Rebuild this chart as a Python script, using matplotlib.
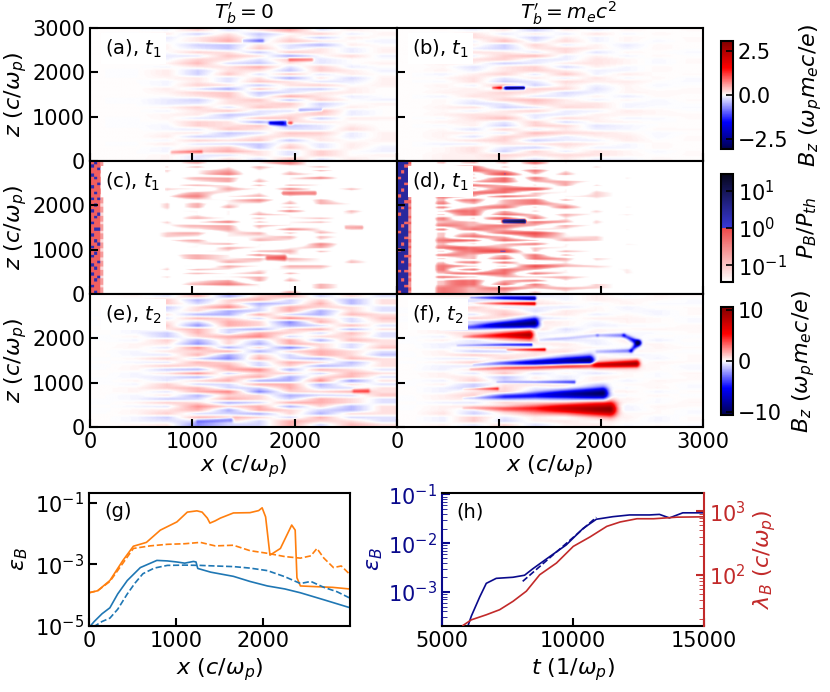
import numpy as np
import matplotlib
matplotlib.use("Agg")
import matplotlib.pyplot as plt
from matplotlib.colors import LinearSegmentedColormap, LogNorm, Normalize
from matplotlib.ticker import LogLocator, NullFormatter, NullLocator

plt.rcParams.update({
    "font.family": ["DejaVu Sans"],
    "mathtext.fontset": "dejavusans",
    "font.size": 15,
    "axes.labelsize": 16,
    "xtick.direction": "in",
    "ytick.direction": "in",
    "xtick.major.size": 6,
    "ytick.major.size": 6,
    "xtick.major.width": 1.5,
    "ytick.major.width": 1.5,
    "xtick.minor.size": 3.5,
    "ytick.minor.size": 3.5,
    "axes.linewidth": 1.5,
})

W, H = 830, 692
L = 3000.0          # box size in c/omega_p

# ---------------------------------------------------------------------------
# field maps (a)-(f): streak tables
# rows run from z=3000 (top) down to z=0, columns sit at these x centres
X_CELLS = [150, 450, 750, 1050, 1350, 1650, 1950, 2250, 2550, 2850]

NOISE_A = [
    [0, 1, -1, 2, -1, 1, 3, -1, 1, 0],
    [1, -1, 2, -2, 1, -2, 0, 2, -1, 1],
    [0, 1, -2, 1, 2, -1, 1, -2, 1, 0],
    [0, 1, -1, 1, 3, -1, 2, 1, 0, -1],
    [-1, 0, 1, -2, -2, 1, -1, -3, 1, 0],
    [1, 0, 1, -1, -2, 2, -1, 1, -1, 1],
    [1, -1, 0, 2, 1, -2, 2, 1, -1, 1],
    [0, 1, -2, -1, 2, 1, -3, 0, 2, -1],
    [-1, 1, -1, 2, 1, -1, 2, -1, 0, 0],
    [1, 0, 1, 3, -1, -2, 1, -1, 0, 1],
    [-1, 1, -1, 1, 1, 3, -1, 2, -1, 0],
    [0, -1, 2, -2, 1, 1, -2, 2, 1, -1],
    [0, -1, 2, -2, 2, -1, 2, -1, 1, 0],
    [1, 0, 1, 1, -1, 1, -3, 1, -2, 1],
    [1, 0, -1, 1, -1, 2, 1, -1, -1, 1],
    [0, 1, -1, 2, 1, -2, 1, 2, 0, 1],
    [-1, 0, 2, -1, -3, 2, -1, -2, 1, 0],
    [0, 1, 1, 2, 2, -2, -1, 1, 1, 0],
    [0, 1, 0, 1, 2, -1, 3, 1, -1, 0],
    [1, -1, -2, -2, 1, 2, -2, 2, 0, -1],
    [-1, 0, -2, -1, 1, 1, 2, -2, 0, 1],
    [0, 0, 1, 2, -1, 2, 1, -1, 1, 0],
    [-1, 1, -1, 1, 2, -1, -1, 3, -1, 0],
    [1, 1, 1, 1, -2, -1, 1, 2, -1, 0],
    [0, -1, 1, -1, -1, 2, 2, -2, 1, 1],
    [1, 0, 0, 2, 1, -3, 1, 1, 0, 0],
    [0, -1, -1, 2, 1, 2, -2, -1, 1, 0],
    [0, 1, -1, -1, 2, 1, -1, -1, 2, 0],
    [-1, 0, 1, 1, -2, -1, 2, 2, -1, 1],
    [1, 0, 2, -2, -1, 1, 1, 1, -1, 1],
    [0, 1, -1, 2, 1, 2, -2, 1, 0, 1],
    [1, -1, 2, -1, -1, -2, 1, -1, 1, 0],
    [0, 1, -1, 1, 2, -2, 2, -1, 1, -1],
    [0, 0, -1, 2, 3, 1, -1, 2, 0, -1],
    [-1, 0, 1, -1, -1, 1, -1, 2, 0, 1],
    [1, 1, 1, -1, 1, -1, 2, -1, 1, 0],
]
NOISE_B = [
    [0, 1, -1, 1, -2, 1, -1, 1, 0, 1],
    [1, -1, 2, -1, 1, -1, 2, -1, 1, 0],
    [1, -1, 2, 1, -2, 1, -1, 1, 0, 1],
    [0, 2, -1, 3, -1, 2, -1, 1, -1, 1],
    [-1, 1, 1, -2, 2, -1, 1, -2, 1, 0],
    [0, 2, -1, -2, 1, 2, 1, -1, 1, 0],
    [1, -2, 2, 1, -1, 2, -2, 1, 0, -1],
    [0, 1, -1, 2, 3, -1, 1, -1, 1, 0],
    [-1, 1, 2, 2, -1, -1, 2, 1, -1, 1],
    [1, 2, 1, -2, -1, 1, 2, 1, -1, 1],
    [-1, 1, -2, 1, 2, -2, 1, -1, 1, 0],
    [1, 2, -1, 1, 2, 1, -1, -1, 1, 0],
    [0, -2, 1, 2, -1, 3, -1, 2, 0, 1],
    [1, 1, 2, -1, 1, -1, 2, -1, 1, -1],
    [0, -1, 2, -2, -1, 2, 1, 2, 0, -1],
    [0, 2, -1, 3, -2, 1, -1, 1, -1, 0],
    [-1, 1, 1, -1, 2, 2, -2, 1, 0, 1],
    [1, 2, 1, 2, 1, -2, -1, 1, 1, 1],
    [1, -2, 2, 1, -1, -1, 1, -2, 1, 0],
    [0, 1, -1, 2, 3, 1, -1, 1, -1, 1],
    [-1, 1, -2, -1, 2, 1, 2, -1, -1, 0],
    [1, 2, 2, -2, -1, 2, 2, -1, 0, -1],
    [-1, 1, -1, 1, 2, -1, -1, 2, 1, 0],
    [0, 2, 2, 1, -1, -1, 1, 1, 1, 1],
    [0, -1, 2, 3, -1, 2, 1, -1, -1, 1],
    [1, 2, 1, -1, 2, -2, 1, 1, 0, 0],
    [1, -1, 1, -2, 2, 2, -2, -1, 0, 0],
    [0, 1, -2, 2, -1, 1, -1, -1, 1, 1],
    [-1, 2, 1, -1, 3, 2, 2, 1, -1, 0],
    [0, 2, -2, 2, 1, -1, 1, 2, -1, 1],
    [1, 1, 2, 2, -2, -1, -1, 2, 0, 1],
    [0, -2, -1, 1, 1, 2, 1, -1, 1, 0],
    [-1, 1, 2, -1, -2, 1, -1, -1, 1, 0],
    [1, 1, 2, -2, 2, -1, 2, 1, -1, 1],
    [1, 2, 1, 2, 1, 2, 2, 1, 0, 1],
    [0, 2, 1, 1, -1, 1, -1, -1, 1, 0],
]
NOISE_E = [
    [0, 1, -1, 2, -2, 1, 2, -1, 1, -1],
    [1, -1, 2, -2, 1, 2, -1, 1, -2, 1],
    [1, -1, 2, -1, 1, -2, -1, 2, -2, 1],
    [0, 2, -2, 1, 3, -1, 2, 1, 1, -1],
    [0, 1, -1, 1, -2, -1, 2, -2, 1, -1],
    [-1, 1, 1, -2, -2, 2, -1, -2, 2, 1],
    [1, -1, -1, 2, 1, -1, 3, 1, -1, 2],
    [-1, 1, 1, -1, 2, 1, -3, 2, -1, 1],
    [0, 1, 2, -3, 2, 1, -2, -1, 2, -1],
    [1, -1, 1, 2, -1, -2, 1, 2, -2, 1],
    [1, -1, -2, 2, -1, 2, 1, -1, 2, -1],
    [-1, 1, -2, 1, 2, 3, -1, 1, 1, -1],
    [0, -1, 2, -2, 1, -1, 2, -2, 2, 1],
    [0, 1, 1, -3, 1, -2, 2, 1, -1, 1],
    [1, 1, -1, 3, -2, 1, -3, 1, -1, 2],
    [0, -1, 1, 1, 2, -2, 1, 2, 1, -1],
    [1, -1, -1, 2, -2, 1, -1, 2, 1, -2],
    [-1, 1, 2, -1, -3, 2, -1, -2, 2, 1],
    [1, -1, -1, 2, 1, -1, 2, 1, -2, 1],
    [-1, 1, 2, 1, 2, -1, 1, -2, -1, 1],
    [0, 1, -2, -2, 2, 3, -2, 2, 1, -1],
    [1, -1, 1, 3, -1, 1, 1, -1, 2, 1],
    [0, -1, -1, -2, 1, 2, -2, 1, 2, -1],
    [-1, 1, -1, 1, 2, -2, -2, 3, -3, 1],
    [0, -1, 2, -1, -1, 2, 2, -2, 1, -1],
    [1, 1, 2, 2, -1, -1, 2, -1, -1, 1],
    [1, 1, -1, 2, 3, -3, 1, 1, 2, 1],
    [0, -1, 1, -2, 1, 1, -2, -1, -1, 2],
    [0, -1, -2, -1, 2, 1, -1, 2, 1, -1],
    [-1, 1, 2, 1, -2, -1, 2, 2, 1, -1],
    [1, -1, -1, 3, 1, 2, -2, 1, -2, 1],
    [-1, 1, 1, 2, -2, 2, 1, -1, -2, 1],
    [0, 1, 2, -1, -1, -2, 1, -2, 1, 1],
    [1, -1, -2, 2, 2, 1, -1, 2, -1, -1],
    [1, -1, -1, -1, 1, -1, 2, 1, 1, -1],
    [0, 1, 1, -3, -1, -1, 2, -1, 2, 1],
]

# envelope of the streak amplitude along x, per panel
ENV_A = [0.0, 0.05, 0.35, 0.8, 1.0, 1.0, 1.0, 0.85, 0.65, 0.45]
ENV_B = [0.0, 0.25, 0.6, 0.9, 0.9, 0.75, 0.55, 0.4, 0.3, 0.2]
ENV_E = [0.05, 0.25, 0.6, 0.9, 1.0, 1.0, 1.0, 0.95, 0.85, 0.7]
ENV_F = [0.05, 0.35, 0.6, 0.5, 0.35, 0.25, 0.2, 0.15, 0.12, 0.1]
SCALE_A, SCALE_B, SCALE_E = 0.17, 0.15, 0.85

# P_B/P_th = (streak table)^2 * gain(x)
GAIN_C = [0, 0, 0.18, 0.06, 0.045, 0.04, 0.04, 0.05, 0.08, 0.12]
GAIN_D_X = [0, 360, 400, 700, 1000, 1400, 1700, 2200, 3000]
GAIN_D = [0, 0, 2.0, 0.4, 0.17, 0.13, 0.07, 0.07, 0.25]

# beam-front band next to x=0 in (c)/(d), rows top -> bottom
# b = above equipartition, r = just below, p = pink, w = faint
BAND_C_EDGES = [0, 35, 70, 100, 130]
BAND_C = ["rbrp", "brrp", "rrbw", "rrrp", "brrw", "rbrp", "rrrp", "rrbp", "brrw", "rrrp",
          "rbrp", "rrrw", "brbp", "rrrp", "rbrw", "rrrp", "brrp", "rrbw", "rbrp", "rrrp",
          "brrw", "rrrp", "rbbp", "rrrw", "brrp", "rrrp", "rbrw", "rrbp", "brrp", "rrrw",
          "rbrp", "brrp", "rrrw", "rrbp", "brrp", "rbrw", "rrrp", "brrp", "rrbw", "rbrp",
          "rrrp", "brrw", "rrrp", "rbrp"]
BAND_D_EDGES = [0, 35, 70, 105, 140]
BAND_D = ["bbbr", "bbrp", "bbbp", "brbr", "bbbp", "rbbr", "bbbp", "bbrp", "bbbr", "brbp",
          "bbbr", "rbbp", "bbbp", "bbrr", "bbbp", "brbr", "bbbp", "rbbp", "bbbr", "bbbp",
          "bbrr", "brbp", "bbbp", "rbbr", "bbbp", "bbrp", "bbbr", "brbp", "bbbr", "rbbp",
          "bbbp", "bbrr", "bbbp", "brbp", "bbbr", "bbbp", "rbrp", "bbbr", "bbbp", "brbr",
          "bbbp", "bbrp", "bbbr", "rbbp"]
BAND_LEVELS_C = {"b": 2.0, "r": 0.65, "p": 0.22, "w": 0.07}
BAND_LEVELS_D = {"b": 2.8, "r": 0.6, "p": 0.25, "w": 0.07}

# distinct filaments: x0, z0, x1, z1, half-width0, half-width1, value0, value1
STREAKS_A = [
    (1760, 850, 1900, 850, 45, 55, -1.5, -2.3),
    (1900, 850, 1960, 850, 40, 40, 0.9, 1.1),
    (1500, 2720, 1680, 2720, 40, 40, -0.5, -0.7),
    (1950, 2290, 2160, 2290, 40, 40, 0.6, 0.7),
    (800, 190, 1080, 200, 40, 40, 0.5, 0.7),
    (2050, 1150, 2250, 1150, 40, 40, -0.5, -0.6),
]
STREAKS_B = [
    (940, 1650, 1040, 1650, 30, 35, 1.0, 2.2),
    (1040, 1650, 1235, 1650, 35, 30, -2.8, -3.2),
]
STREAKS_C = [
    (1735, 812, 1890, 812, 45, 50, 0.5, 0.8),
    (1890, 2280, 2190, 2280, 40, 40, 0.3, 0.35),
    (2500, 1500, 2650, 1500, 40, 40, 0.15, 0.2),
]
STREAKS_D = [
    (1040, 1640, 1240, 1640, 28, 30, 6.0, 14.0),
]
STREAKS_E = [
    (1050, 120, 1370, 150, 50, 60, -2.0, -3.5),
    (2580, 810, 2710, 810, 50, 50, 2.5, 3.0),
]
LOBES_F = [
    (720, 2930, 1340, 2910, 25, 45, -2, -8),
    (700, 2800, 1340, 2790, 25, 40, 1, 6),
    (425, 2220, 1340, 2350, 30, 110, -1, -10),
    (650, 2040, 1290, 2080, 30, 100, 1, 9),
    (590, 1840, 1310, 1860, 25, 35, -1, -5),
    (1080, 1740, 1440, 1750, 25, 35, 2, 6),
    (1400, 1960, 1960, 2070, 40, 40, -1, -1.5),
    (1960, 2070, 2220, 2070, 40, 45, -1.5, -2.5),
    (2220, 2070, 2360, 1900, 45, 60, -2.5, -7),
    (2360, 1900, 2290, 1720, 60, 45, -7, -3),
    (2290, 1720, 1960, 1700, 45, 40, -3, -1),
    (750, 1410, 1880, 1500, 30, 110, -1, -10),
    (720, 1300, 2340, 1430, 30, 80, 1, 9),
    (980, 1010, 1730, 1010, 25, 40, -1, -4),
    (650, 850, 980, 860, 25, 35, 1, 4),
    (650, 640, 2010, 760, 30, 130, -1, -10),
    (650, 420, 2080, 400, 30, 160, 1, 10),
]

# ---------------------------------------------------------------------------
# (g) eps_B vs x
G_OR_X = [0, 100, 240, 390, 510, 660, 820, 1010, 1130, 1240, 1300, 1360, 1390, 1450,
          1510, 1660, 1850, 1950, 1990, 2030, 2060, 2080, 2200, 2330, 2370, 2390, 2430,
          2600, 2800, 2990]
G_OR = [1.2e-4, 1.4e-4, 3.0e-4, 1.35e-3, 3.9e-3, 5.2e-3, 1.3e-2, 2.4e-2, 5.0e-2, 5.5e-2,
        5.0e-2, 3.2e-2, 2.2e-2, 2.6e-2, 3.2e-2, 4.7e-2, 4.8e-2, 5.6e-2, 6.9e-2, 3.5e-2,
        6.3e-3, 2.0e-3, 3.3e-3, 1.9e-2, 1.3e-2, 3.7e-4, 2.0e-4, 1.9e-4, 1.8e-4, 1.6e-4]
G_OR_D_X = [0, 100, 240, 390, 510, 700, 900, 1100, 1280, 1450, 1660, 1850, 2050, 2250,
            2430, 2550, 2620, 2700, 2810, 2900, 2990]
G_OR_D = [1.2e-4, 1.4e-4, 2.8e-4, 1.1e-3, 3.3e-3, 4.0e-3, 4.5e-3, 4.7e-3, 5.2e-3, 4.0e-3,
          4.2e-3, 2.8e-3, 2.3e-3, 1.8e-3, 1.6e-3, 1.9e-3, 3.3e-3, 1.6e-3, 7.9e-4, 8.9e-4,
          5.0e-4]
G_BL_X = [0, 60, 150, 240, 330, 440, 590, 780, 900, 1010, 1100, 1200, 1230, 1250, 1400,
          1660, 1850, 2050, 2250, 2430, 2700, 2990]
G_BL = [8.9e-6, 1.4e-5, 2.5e-5, 3.9e-5, 1.1e-4, 3.0e-4, 7.9e-4, 1.35e-3, 1.3e-3, 1.2e-3,
        1.1e-3, 1.25e-3, 1.2e-3, 7.4e-4, 5.6e-4, 4.1e-4, 2.8e-4, 2.0e-4, 1.6e-4, 1.2e-4,
        7.1e-5, 4.0e-5]
G_BL_D_X = [50, 150, 240, 330, 440, 530, 620, 750, 900, 1100, 1280, 1450, 1660, 1850,
            2050, 2250, 2430, 2550, 2700, 2850, 2990]
G_BL_D = [9.3e-6, 1.4e-5, 1.8e-5, 3.5e-5, 1.1e-4, 2.5e-4, 5.0e-4, 7.6e-4, 9.3e-4, 9.5e-4,
          9.3e-4, 8.9e-4, 8.5e-4, 7.6e-4, 6.3e-4, 4.0e-4, 2.4e-4, 2.8e-4, 1.8e-4, 1.3e-4,
          8.3e-5]

# (h) eps_B and lambda_B vs t
H_T = [5990, 6120, 6440, 6690, 7070, 7710, 8150, 8470, 9110, 9740, 10380, 10890, 11520,
       12160, 12920, 13300, 13680, 14190, 14950]
H_EPS = [2.0e-4, 3.2e-4, 7.9e-4, 1.5e-3, 1.9e-3, 2.0e-3, 2.2e-3, 3.0e-3, 5.3e-3, 9.2e-3,
         2.0e-2, 3.1e-2, 3.5e-2, 3.8e-2, 3.8e-2, 3.9e-2, 3.3e-2, 4.2e-2, 4.2e-2]
H_FIT_T = [8080, 10890]
H_FIT = [1.65e-3, 3.4e-2]
H_LAM_T = [5800, 6120, 6690, 7200, 7710, 8220, 8730, 9370, 10010, 10650, 11290, 11800,
           12440, 13080, 13970, 14990]
H_LAM = [15.8, 19.4, 23.3, 28, 38, 55, 100, 153, 280, 395, 580, 680, 765, 765, 810, 820]

NAVY = "#0a0a8c"
RED = "#c22a2a"

# ---------------------------------------------------------------------------
fig = plt.figure(figsize=(W / 100, H / 100), dpi=100)


def fax(l, t, w, h):
    return fig.add_axes([l / W, 1 - (t + h) / H, w / W, h / H])


ax_a, ax_b = fax(90, 28, 307, 133), fax(397, 28, 306, 133)
ax_c, ax_d = fax(90, 161, 307, 133), fax(397, 161, 306, 133)
ax_e, ax_f = fax(90, 294, 307, 133), fax(397, 294, 306, 133)
cax1, cax2, cax3 = fax(721, 41, 12, 108), fax(721, 174, 12, 108), fax(721, 307, 12, 108)
ax_g, ax_h = fax(89, 493, 261, 133), fax(442, 493, 262, 133)

STRETCH = 307 / 133            # pixel size ratio of x vs z units in a map panel
xg = np.linspace(0, L, 300)
zg = np.linspace(0, L, 160)
XG, ZG = np.meshgrid(xg, zg)


def table_field(table, env, scale=1.0):
    t = np.asarray(table, float)[::-1]
    nrow = t.shape[0]
    zc = (np.arange(nrow) + 0.5) * L / nrow
    rows = np.array([np.interp(xg, X_CELLS, r * np.asarray(env)) for r in t])
    out = np.array([np.interp(zg, zc, rows[:, j]) for j in range(len(xg))]).T
    return out * scale


def add_streaks(field, streaks):
    for x0, z0, x1, z1, w0, w1, a0, a1 in streaks:
        dx, dz = (x1 - x0) * STRETCH, z1 - z0
        px, pz = (XG - x0) * STRETCH, ZG - z0
        s = np.clip((px * dx + pz * dz) / (dx * dx + dz * dz), 0, 1)
        d = np.hypot(px - s * dx, pz - s * dz)
        w = w0 + s * (w1 - w0)
        field = field + (a0 + s * (a1 - a0)) * np.exp(-(d / w) ** 2)
    return field


def add_band(field, band, edges, levels):
    b = np.array([[levels[ch] for ch in row] for row in band])[::-1]
    iz = np.minimum((zg / L * b.shape[0]).astype(int), b.shape[0] - 1)
    for j in range(len(edges) - 1):
        cols = (xg >= edges[j]) & (xg < edges[j + 1])
        field[:, cols] = np.maximum(field[:, cols], b[iz, j][:, None])
    return field


tab_a = table_field(NOISE_A, ENV_A)
tab_b = table_field(NOISE_B, ENV_B)
bz_a = add_streaks(tab_a * SCALE_A, STREAKS_A)
bz_b = add_streaks(tab_b * SCALE_B, STREAKS_B)
pb_c = add_streaks(tab_a ** 2 * np.interp(xg, X_CELLS, GAIN_C), STREAKS_C)
pb_d = add_streaks(tab_b ** 2 * np.interp(xg, GAIN_D_X, GAIN_D), STREAKS_D)
pb_c = add_band(pb_c, BAND_C, BAND_C_EDGES, BAND_LEVELS_C)
pb_d = add_band(pb_d, BAND_D, BAND_D_EDGES, BAND_LEVELS_D)
bz_e = add_streaks(table_field(NOISE_E, ENV_E, SCALE_E), STREAKS_E)
bz_f = add_streaks(table_field(NOISE_E[::-1], ENV_F, SCALE_E), LOBES_F)

pb_cmap = LinearSegmentedColormap.from_list(
    "pb", [(0, "white"), (0.5, "#f04848"), (0.5, "#3838d8"), (1, "#06061c")])
norm1 = Normalize(-3.05, 3.05)
norm2 = LogNorm(10 ** -1.45, 10 ** 1.45)
norm3 = Normalize(-10.5, 10.5)

panels = [
    (ax_a, bz_a, "seismic", norm1, "(a), $t_1$"),
    (ax_b, bz_b, "seismic", norm1, "(b), $t_1$"),
    (ax_c, np.clip(pb_c, 1e-4, None), pb_cmap, norm2, "(c), $t_1$"),
    (ax_d, np.clip(pb_d, 1e-4, None), pb_cmap, norm2, "(d), $t_1$"),
    (ax_e, bz_e, "seismic", norm3, "(e), $t_2$"),
    (ax_f, bz_f, "seismic", norm3, "(f), $t_2$"),
]
images = []
for ax, fld, cmap, norm, lab in panels:
    im = ax.imshow(fld, origin="lower", extent=[0, L, 0, L], aspect="auto",
                   cmap=cmap, norm=norm, interpolation="bilinear")
    images.append(im)
    ax.set_xlim(0, L)
    ax.set_ylim(0, L)
    ax.text(0.05, 0.93, lab, transform=ax.transAxes, ha="left", va="top", fontsize=14,
            bbox=dict(facecolor="white", edgecolor="none", pad=3))
    ax.set_xticks([0, 1000, 2000, 3000])
    ax.tick_params(labelbottom=False, labelleft=False)

for ax in (ax_a, ax_c, ax_e):
    ax.set_ylabel(r"$z\ (c/\omega_p)$", labelpad=2)
    ax.tick_params(labelleft=True)
ax_a.set_yticks([0, 1000, 2000, 3000])
for ax in (ax_b, ax_c, ax_d, ax_e, ax_f):
    ax.set_yticks([0, 1000, 2000])
ax_e.set_xticks([0, 1000, 2000])
for ax in (ax_e, ax_f):
    ax.tick_params(labelbottom=True)
    ax.set_xlabel(r"$x\ (c/\omega_p)$", labelpad=1)

fig.text(244 / W, 1 - 13 / H, r"$T_b' = 0$", ha="center", va="center", fontsize=14.5)
fig.text(568 / W, 1 - 13 / H, r"$T_b' = m_ec^2$", ha="center", va="center", fontsize=14.5)

cb_labels = [r"$B_z\ (\omega_p m_e c/e)$", r"$P_B/P_{th}$", r"$B_z\ (\omega_p m_e c/e)$"]
for cax, im, lab in zip((cax1, cax2, cax3), (images[0], images[2], images[4]), cb_labels):
    cb = fig.colorbar(im, cax=cax)
    cb.outline.set_linewidth(1.5)
    cb.set_label(lab, labelpad=6)
    cax.tick_params(direction="in", length=5, width=1.2)
    cax.yaxis.set_minor_locator(NullLocator())
cax1.set_yticks([-2.5, 0, 2.5])
cax2.set_yticks([0.1, 1, 10])
cax2.yaxis.set_minor_locator(NullLocator())
cax3.set_yticks([-10, 0, 10])

# ---- (g)
ax_g.semilogy(G_OR_X, G_OR, color="tab:orange", lw=1.2)
ax_g.semilogy(G_OR_D_X, G_OR_D, color="tab:orange", lw=1.2, ls="--")
ax_g.semilogy(G_BL_X, G_BL, color="tab:blue", lw=1.2)
ax_g.semilogy(G_BL_D_X, G_BL_D, color="tab:blue", lw=1.2, ls="--")
ax_g.set_xlim(0, L)
ax_g.set_ylim(1e-5, 10 ** -0.68)
ax_g.set_xticks([0, 1000, 2000])
ax_g.set_yticks([1e-5, 1e-3, 1e-1])
ax_g.yaxis.set_minor_locator(NullLocator())
ax_g.set_xlabel(r"$x\ (c/\omega_p)$")
ax_g.set_ylabel(r"$\varepsilon_B$")
ax_g.text(0.06, 0.93, "(g)", transform=ax_g.transAxes, ha="left", va="top", fontsize=14)

# ---- (h)
ax_h.semilogy(H_T, H_EPS, color=NAVY, lw=1.2)
ax_h.semilogy(H_FIT_T, H_FIT, color=NAVY, lw=1.2, ls="--")
ax_h.set_xlim(5000, 15000)
ax_h.set_ylim(2e-4, 10 ** -0.97)
ax_h.set_xticks([5000, 10000, 15000])
ax_h.yaxis.set_major_locator(LogLocator(base=10))
ax_h.yaxis.set_minor_locator(LogLocator(base=10, subs=np.arange(2, 10)))
ax_h.yaxis.set_minor_formatter(NullFormatter())
ax_h.tick_params(axis="y", which="both", colors=NAVY)
ax_h.spines["left"].set_color(NAVY)
ax_h.spines["right"].set_visible(False)
ax_h.set_ylabel(r"$\varepsilon_B$", color=NAVY, labelpad=2)
ax_h.set_xlabel(r"$t\ (1/\omega_p)$")
ax_h.text(0.055, 0.93, "(h)", transform=ax_h.transAxes, ha="left", va="top", fontsize=14)

ax_h2 = ax_h.twinx()
ax_h2.semilogy(H_LAM_T, H_LAM, color=RED, lw=1.2)
ax_h2.set_ylim(15.5, 1950)
ax_h2.yaxis.set_minor_locator(LogLocator(base=10, subs=np.arange(2, 10)))
ax_h2.yaxis.set_minor_formatter(NullFormatter())
ax_h2.tick_params(axis="y", which="both", colors=RED, direction="in")
for side in ("left", "top", "bottom"):
    ax_h2.spines[side].set_visible(False)
ax_h2.spines["right"].set_color(RED)
ax_h2.set_ylabel(r"$\lambda_B\ (c/\omega_p)$", color=RED)

fig.savefig("out.png", dpi=100)
